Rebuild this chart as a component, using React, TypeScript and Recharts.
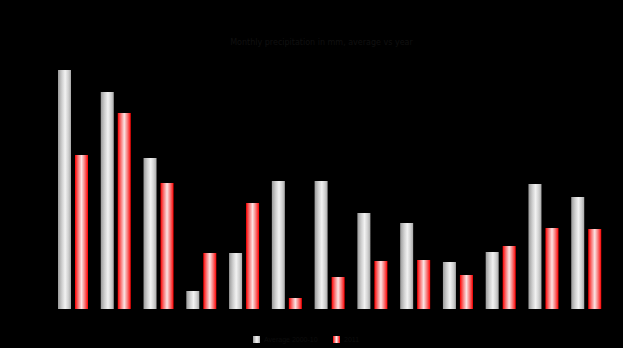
import { Bar, BarChart, XAxis, YAxis } from "recharts";

const categories = ["A", "B", "C", "D", "E", "F", "G", "H", "I", "J", "K", "L", "M"];
const seriesA = [239, 217, 151, 18, 56, 128, 128, 96, 86, 47, 57, 125, 112];
const seriesB = [154, 196, 126, 56, 106, 11, 32, 48, 49, 34, 63, 81, 80];
const seriesNames = ["Average 2000-10", "2011"];

const data = categories.map((name, i) => ({
  name,
  a: seriesA[i],
  b: seriesB[i],
}));

function LegendBox() {
  const items = [
    { label: seriesNames[0], fill: "url(#greyGrad)", width: 80 },
    { label: seriesNames[1], fill: "url(#redGrad)", width: 40 },
  ];
  return (
    <div
      style={{
        position: "absolute",
        top: 334,
        left: 253,
        display: "flex",
        fontSize: 7,
        lineHeight: "11px",
        color: "#0d0d0d",
        whiteSpace: "nowrap",
        fontFamily: "'Liberation Sans', Arial, sans-serif",
      }}
    >
      {items.map((it) => (
        <div key={it.label} style={{ display: "flex", alignItems: "center", gap: 4, width: it.width }}>
          <svg width={7} height={7} style={{ flexShrink: 0 }}>
            <rect width={7} height={7} fill={it.fill} />
          </svg>
          <span>{it.label}</span>
        </div>
      ))}
    </div>
  );
}

export default function App() {
  return (
    <div
      style={{
        position: "fixed",
        left: 0,
        top: 0,
        width: 623,
        height: 348,
        background: "#000",
        fontFamily: "'DejaVu Sans', sans-serif",
      }}
    >
      <div
        style={{
          position: "absolute",
          top: 38,
          width: "100%",
          textAlign: "center",
          fontSize: 8,
          color: "#101010",
          paddingLeft: 10,
        }}
      >
        Monthly precipitation in mm, average vs year
      </div>
      <BarChart
        width={623}
        height={348}
        data={data}
        margin={{ top: 59, right: 15, left: 52, bottom: 39 }}
        barCategoryGap={6}
        barGap={4}
      >
        <defs>
          <linearGradient id="greyGrad" x1="0" y1="0" x2="1" y2="0">
            <stop offset="0%" stopColor="#9a9a9a" />
            <stop offset="30%" stopColor="#cfcfcf" />
            <stop offset="55%" stopColor="#f2f2f2" />
            <stop offset="80%" stopColor="#d0d0d0" />
            <stop offset="100%" stopColor="#a8a8a8" />
          </linearGradient>
          <linearGradient id="redGrad" x1="0" y1="0" x2="1" y2="0">
            <stop offset="0%" stopColor="#ff0000" />
            <stop offset="25%" stopColor="#f77a7a" />
            <stop offset="50%" stopColor="#fbe4e4" />
            <stop offset="75%" stopColor="#f77a7a" />
            <stop offset="100%" stopColor="#ff0000" />
          </linearGradient>
        </defs>
        <XAxis dataKey="name" hide />
        <YAxis hide domain={[0, 250]} />
        <Bar dataKey="a" name={seriesNames[0]} fill="url(#greyGrad)" isAnimationActive={false} />
        <Bar dataKey="b" name={seriesNames[1]} fill="url(#redGrad)" isAnimationActive={false} />
      </BarChart>
      <LegendBox />
    </div>
  );
}
